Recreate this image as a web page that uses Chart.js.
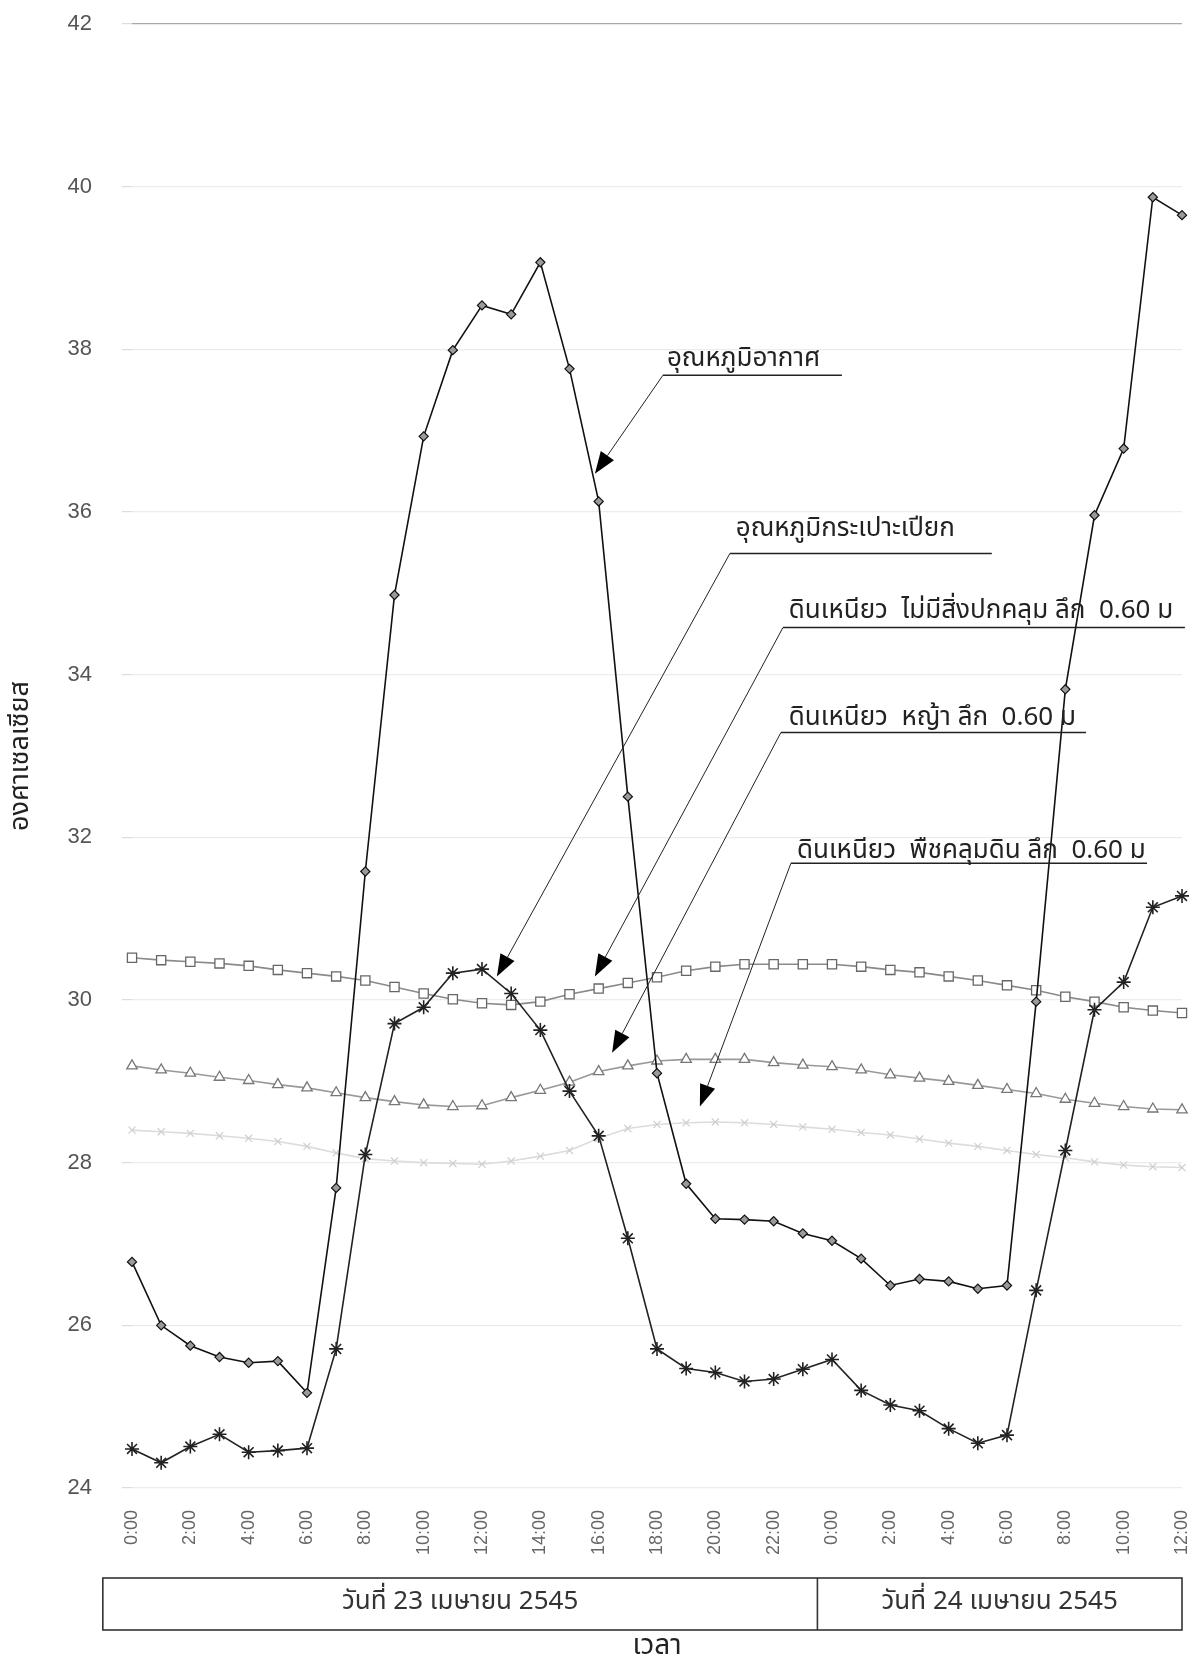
<!DOCTYPE html>
<html lang="th">
<head>
<meta charset="utf-8">
<title>อุณหภูมิ 23–24 เมษายน 2545</title>
<script src="https://cdn.jsdelivr.net/npm/chart.js@4.4.1/dist/chart.umd.min.js"></script>
<style>
  html, body { margin: 0; padding: 0; background: #ffffff; }
  #wrap { position: relative; width: 1194px; height: 1665px; }
</style>
</head>
<body>
<div id="wrap"><canvas id="chart" width="1194" height="1665"></canvas></div>
<script>
// Hourly readings, 0:00 on 23 April to 12:00 on 24 April 2545
const hourLabels = [
  '0:00','1:00','2:00','3:00','4:00','5:00','6:00','7:00','8:00','9:00','10:00','11:00',
  '12:00','13:00','14:00','15:00','16:00','17:00','18:00','19:00','20:00','21:00','22:00','23:00',
  '0:00','1:00','2:00','3:00','4:00','5:00','6:00','7:00','8:00','9:00','10:00','11:00','12:00'
];

// Air temperature (°C)
const airTemp = [
  26.78, 26.00, 25.75, 25.61, 25.54, 25.56, 25.17, 27.69, 31.58, 34.98, 36.93, 37.99,
  38.54, 38.43, 39.07, 37.76, 36.13, 32.50, 29.10, 27.74, 27.31, 27.30, 27.28, 27.13,
  27.04, 26.82, 26.49, 26.57, 26.54, 26.45, 26.49, 29.98, 33.82, 35.96, 36.78, 39.87, 39.65
];

// Wet-bulb temperature (°C)
const wetBulb = [
  24.48, 24.31, 24.51, 24.66, 24.44, 24.46, 24.49, 25.71, 28.10, 29.71, 29.91, 30.33,
  30.38, 30.08, 29.63, 28.88, 28.33, 27.07, 25.71, 25.47, 25.42, 25.31, 25.34, 25.46,
  25.58, 25.20, 25.02, 24.95, 24.73, 24.55, 24.65, 26.43, 28.15, 29.88, 30.22, 31.14, 31.28
];

// Clay soil at 0.60 m, bare surface (°C)
const clayBare = [
  30.52, 30.49, 30.47, 30.45, 30.42, 30.37, 30.33, 30.29, 30.24, 30.16, 30.08, 30.01,
  29.96, 29.94, 29.98, 30.07, 30.14, 30.21, 30.28, 30.36, 30.41, 30.44, 30.44, 30.44,
  30.44, 30.41, 30.37, 30.34, 30.29, 30.24, 30.18, 30.12, 30.04, 29.98, 29.91, 29.87, 29.84
];

// Clay soil at 0.60 m, under grass (°C)
const clayGrass = [
  29.19, 29.14, 29.10, 29.05, 29.01, 28.96, 28.92, 28.86, 28.80, 28.75, 28.71, 28.69,
  28.70, 28.80, 28.89, 28.99, 29.12, 29.19, 29.25, 29.27, 29.27, 29.27, 29.23, 29.20,
  29.18, 29.14, 29.08, 29.04, 29.00, 28.95, 28.90, 28.85, 28.78, 28.73, 28.69, 28.66, 28.65
];

// Clay soil at 0.60 m, under ground-cover plants (°C)
const clayCover = [
  28.40, 28.38, 28.36, 28.33, 28.30, 28.26, 28.20, 28.12, 28.05, 28.02, 28.00, 27.99,
  27.98, 28.02, 28.08, 28.15, 28.30, 28.42, 28.47, 28.49, 28.50, 28.49, 28.47, 28.44,
  28.41, 28.37, 28.34, 28.29, 28.24, 28.20, 28.15, 28.10, 28.06, 28.01, 27.97, 27.95, 27.94
];

const yTicks = [24, 26, 28, 30, 32, 34, 36, 38, 40, 42];

const seriesNames = [
  'อุณหภูมิอากาศ',
  'อุณหภูมิกระเปาะเปียก',
  'ดินเหนียว  ไม่มีสิ่งปกคลุม ลึก  0.60 ม',
  'ดินเหนียว  หญ้า ลึก  0.60 ม',
  'ดินเหนียว  พืชคลุมดิน ลึก  0.60 ม'
];

const dayNames = ['วันที่ 23 เมษายน 2545', 'วันที่ 24 เมษายน 2545'];
const yTitle = 'องศาเซลเซียส';
const xTitle = 'เวลา';

// Callout placement in chart units (hour index, °C):
// text anchor, underline start/end and the arrow tip.
const calloutPlacement = [
  { tx: 18.34, ty: 37.79, ux: 18.20, ux2: 24.34, uy: 37.68, ax: 15.87, ay: 36.47 },
  { tx: 20.70, ty: 35.70, ux: 20.50, ux2: 29.48, uy: 35.49, ax: 12.51, ay: 30.29 },
  { tx: 22.52, ty: 34.70, ux: 22.32, ux2: 36.10, uy: 34.58, ax: 15.87, ay: 30.29 },
  { tx: 22.52, ty: 33.38, ux: 22.25, ux2: 32.71, uy: 33.29, ax: 16.46, ay: 29.35 },
  { tx: 22.80, ty: 31.75, ux: 22.59, ux2: 34.80, uy: 31.68, ax: 19.47, ay: 28.69 }
];

const THAI_FONT = '"Noto Sans Thai", "Loma", "Garuda", "Noto Sans", "DejaVu Sans", sans-serif';
const NUM_FONT = '"Liberation Sans", Arial, sans-serif';

// Leader lines, underlines and arrowheads for the series names
const calloutPlugin = {
  id: 'callouts',
  afterDatasetsDraw(chart) {
    const { ctx, scales: { x, y } } = chart;
    ctx.save();
    seriesNames.forEach((name, i) => {
      const p = calloutPlacement[i];
      const sx = x.getPixelForValue(p.ux), sy = y.getPixelForValue(p.uy);
      const ex = x.getPixelForValue(p.ux2);
      const tipX = x.getPixelForValue(p.ax), tipY = y.getPixelForValue(p.ay);

      ctx.fillStyle = '#222';
      ctx.font = '26px ' + THAI_FONT;
      ctx.textAlign = 'left';
      ctx.textBaseline = 'alphabetic';
      ctx.fillText(name, x.getPixelForValue(p.tx), y.getPixelForValue(p.ty));

      ctx.strokeStyle = '#222';
      ctx.lineWidth = 1.5;
      ctx.beginPath();
      ctx.moveTo(sx, sy);
      ctx.lineTo(ex, sy);
      ctx.stroke();

      let dx = tipX - sx, dy = tipY - sy;
      const len = Math.hypot(dx, dy);
      dx /= len; dy /= len;
      const headLen = 22, headHalf = 8;
      const bx = tipX - dx * headLen, by = tipY - dy * headLen;

      ctx.lineWidth = 1;
      ctx.beginPath();
      ctx.moveTo(sx, sy);
      ctx.lineTo(bx, by);
      ctx.stroke();

      ctx.fillStyle = '#000';
      ctx.beginPath();
      ctx.moveTo(tipX, tipY);
      ctx.lineTo(bx - dy * headHalf, by + dx * headHalf);
      ctx.lineTo(bx + dy * headHalf, by - dx * headHalf);
      ctx.closePath();
      ctx.fill();
    });
    ctx.restore();
  }
};

// Two-cell date band under the hour labels
const dateBandPlugin = {
  id: 'dateBand',
  afterDraw(chart) {
    const { ctx, chartArea, scales: { x } } = chart;
    const step = x.getPixelForValue(1) - x.getPixelForValue(0);
    const left = x.getPixelForValue(0) - step;
    const right = x.getPixelForValue(hourLabels.length - 1);
    const split = (x.getPixelForValue(23) + x.getPixelForValue(24)) / 2;
    const top = chartArea.bottom + 90;
    const h = 52;
    ctx.save();
    ctx.strokeStyle = '#333';
    ctx.lineWidth = 1.6;
    ctx.strokeRect(left, top, right - left, h);
    ctx.beginPath();
    ctx.moveTo(split, top);
    ctx.lineTo(split, top + h);
    ctx.stroke();
    ctx.fillStyle = '#333';
    ctx.font = '26px ' + THAI_FONT;
    ctx.textAlign = 'center';
    ctx.textBaseline = 'middle';
    ctx.fillText(dayNames[0], (left + split) / 2, top + h / 2);
    ctx.fillText(dayNames[1], (split + right) / 2, top + h / 2);
    ctx.restore();
  }
};

new Chart(document.getElementById('chart'), {
  type: 'line',
  data: {
    labels: hourLabels,
    datasets: [
      {
        label: seriesNames[0], data: airTemp,
        borderColor: '#111', borderWidth: 1.6,
        pointStyle: 'rectRot', pointRadius: 4.6,
        pointBackgroundColor: '#9a9a9a', pointBorderColor: '#111', pointBorderWidth: 1.2,
        tension: 0
      },
      {
        label: seriesNames[1], data: wetBulb,
        borderColor: '#222', borderWidth: 1.6,
        pointStyle: 'star', pointRadius: 7,
        pointBackgroundColor: '#222', pointBorderColor: '#222', pointBorderWidth: 1.6,
        tension: 0
      },
      {
        label: seriesNames[2], data: clayBare,
        borderColor: '#8a8a8a', borderWidth: 1.6,
        pointStyle: 'rect', pointRadius: 6.5,
        pointBackgroundColor: '#ffffff', pointBorderColor: '#666', pointBorderWidth: 1.3,
        tension: 0
      },
      {
        label: seriesNames[3], data: clayGrass,
        borderColor: '#999', borderWidth: 1.6,
        pointStyle: 'triangle', pointRadius: 6,
        pointBackgroundColor: '#ffffff', pointBorderColor: '#777', pointBorderWidth: 1.3,
        tension: 0
      },
      {
        label: seriesNames[4], data: clayCover,
        borderColor: '#dcdcdc', borderWidth: 1.6,
        pointStyle: 'crossRot', pointRadius: 5,
        pointBackgroundColor: '#d0d0d0', pointBorderColor: '#cfcfcf', pointBorderWidth: 1.2,
        tension: 0
      }
    ]
  },
  options: {
    responsive: false,
    animation: false,
    devicePixelRatio: 1,
    layout: { padding: { left: 0, right: 12, top: 24, bottom: 0 } },
    plugins: {
      legend: { display: false },
      tooltip: { enabled: false }
    },
    scales: {
      x: {
        type: 'category',
        offset: false,
        grid: { display: false, drawTicks: false },
        border: { display: false },
        ticks: {
          autoSkip: false,
          maxRotation: 90, minRotation: 90,
          padding: 22,
          color: '#666',
          font: { family: NUM_FONT, size: 18 },
          callback: (value, index) => (index % 2 === 0 ? hourLabels[index] : '')
        },
        title: {
          display: true, text: xTitle, color: '#222',
          font: { family: THAI_FONT, size: 28 },
          padding: { top: 0, bottom: 0 }
        },
        afterFit: (scale) => {
          scale.height = 177;
          scale.paddingLeft = 0;
          scale.paddingRight = 0;
        }
      },
      y: {
        min: 24, max: 42,
        afterBuildTicks: (scale) => { scale.ticks = yTicks.map(v => ({ value: v })); },
        grid: {
          color: (c) => (c.tick && c.tick.value === 42 ? '#a8a8a8' : '#ececec'),
          lineWidth: 1.2,
          tickLength: 10,
          tickColor: '#dcdcdc'
        },
        border: { display: false },
        ticks: {
          padding: 30,
          color: '#555',
          font: { family: NUM_FONT, size: 22 }
        },
        title: {
          display: true, text: yTitle, color: '#222',
          font: { family: THAI_FONT, size: 27 },
          padding: { top: 6, bottom: 0 }
        },
        afterFit: (scale) => {
          scale.width = 132;
          scale.paddingTop = 0;
          scale.paddingBottom = 0;
        }
      }
    }
  },
  plugins: [calloutPlugin, dateBandPlugin]
});
</script>
</body>
</html>
